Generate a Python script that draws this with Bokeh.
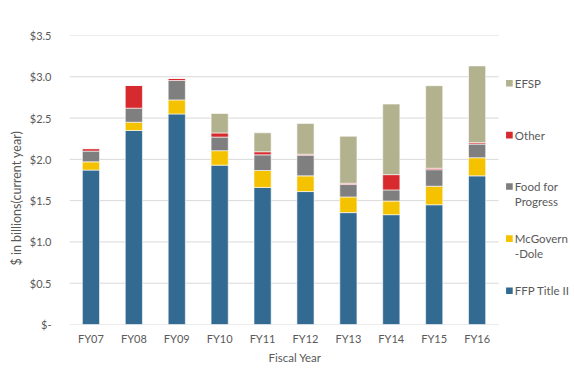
from bokeh.plotting import figure
from bokeh.models import FixedTicker, Label, BoxAnnotation, ColumnDataSource, Range1d, Title
from bokeh.embed import file_html
from bokeh.resources import INLINE

years = ["FY07", "FY08", "FY09", "FY10", "FY11", "FY12", "FY13", "FY14", "FY15", "FY16"]
series = ["FFP Title II", "McGovern-Dole", "Food for Progress", "Other", "EFSP"]
ffp_title_ii = [1.87, 2.35, 2.55, 1.93, 1.66, 1.61, 1.355, 1.33, 1.45, 1.80]
mcgovern_dole = [0.10, 0.10, 0.17, 0.175, 0.205, 0.19, 0.19, 0.165, 0.225, 0.22]
food_for_progress = [0.13, 0.17, 0.235, 0.165, 0.19, 0.25, 0.15, 0.135, 0.20, 0.165]
other = [0.03, 0.275, 0.025, 0.05, 0.037, 0.012, 0.015, 0.185, 0.017, 0.017]
efsp = [0.0, 0.0, 0.0, 0.235, 0.23, 0.373, 0.57, 0.855, 1.0, 0.93]
colors = ["#336A92", "#F5C200", "#7F7F7F", "#D62A2E", "#B3B28F"]
y_ticks = [0, 0.5, 1.0, 1.5, 2.0, 2.5, 3.0, 3.5]
y_tick_labels = ["$-", "$0.5", "$1.0", "$1.5", "$2.0", "$2.5", "$3.0", "$3.5"]
legend_lines = [["FFP Title II"], ["McGovern", "-Dole"], ["Food for", "Progress"], ["Other"], ["EFSP"]]
x_title = "Fiscal Year"
y_title = "$ in billions(current year)"

FONT = "Lato"
TXT = "#595959"

n = len(years)
x_pos = list(range(n))
src = ColumnDataSource(dict(x=x_pos, s0=ffp_title_ii, s1=mcgovern_dole, s2=food_for_progress,
                            s3=other, s4=efsp))

p = figure(x_range=Range1d(-0.5, 11.27), y_range=Range1d(0, 3.5), width=574, height=375,
           output_backend="svg", toolbar_location=None,
           min_border_left=69, min_border_right=0, min_border_top=35, min_border_bottom=51)
p.xgrid.grid_line_color = None
p.ygrid.grid_line_color = None
p.outline_line_color = None

# horizontal gridlines limited to the category span
p.segment(x0=[-0.5] * len(y_ticks), x1=[n - 0.5] * len(y_ticks), y0=y_ticks, y1=y_ticks,
          line_color="#D9D9D9", line_width=1)

p.vbar_stack(["s0", "s1", "s2", "s3", "s4"], x="x", width=0.4, color=colors,
             line_color="white", line_width=0.6, source=src)

p.yaxis.ticker = FixedTicker(ticks=y_ticks)
p.yaxis.major_label_overrides = {t: l for t, l in zip(y_ticks, y_tick_labels)}
p.xaxis.ticker = FixedTicker(ticks=x_pos)
p.xaxis.major_label_overrides = {i: y for i, y in zip(x_pos, years)}

for ax in (p.xaxis[0], p.yaxis[0]):
    ax.major_tick_line_color = None
    ax.minor_tick_line_color = None
    ax.axis_line_color = None
    ax.major_label_text_font = FONT
    ax.major_label_text_font_size = "11px"
    ax.major_label_text_color = TXT
p.yaxis.major_label_standoff = 12
p.xaxis.major_label_standoff = 1

# axis titles placed as side titles so they can be offset like the original
p.add_layout(Title(text=x_title, align="left", offset=199, standoff=3, text_font=FONT,
                   text_font_size="11.5px", text_color=TXT, text_font_style="normal"), "below")
p.add_layout(Title(text=y_title, align="left", offset=59, standoff=6, text_font=FONT,
                   text_font_size="12.5px", text_color=TXT, text_font_style="normal"), "left")

# legend (right of bars)
legend_y = [0.409, 1.040, 1.671, 2.294, 2.921]
line_gap = 0.182
for lines, yv, c in zip(legend_lines, legend_y, colors):
    p.add_layout(BoxAnnotation(left=9.675, right=9.83, bottom=yv - 0.04, top=yv + 0.04,
                               fill_color=c, fill_alpha=1, line_color=None))
    for i, ln in enumerate(lines):
        p.add_layout(Label(x=9.88, y=yv - i * line_gap, text=ln,
                           text_font=FONT, text_font_size="11.5px", text_color=TXT,
                           text_baseline="middle", text_align="left"))

open("out.html", "w").write(file_html(p, INLINE))
